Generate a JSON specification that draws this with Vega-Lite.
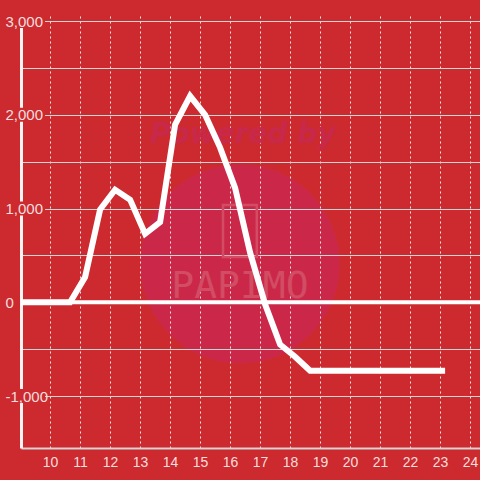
{
  "$schema": "https://vega.github.io/schema/vega-lite/v6.json",
  "width": 459,
  "height": 432,
  "autosize": "none",
  "padding": {"left": 21, "top": 16, "right": 0, "bottom": 32},
  "background": "#cd2a2f",
  "config": {"font": "Liberation Sans", "axis": {"labelOverlap": false, "labelFlush": false}},
  "view": {
    "stroke": null,
    "fill": {"expr": "{gradient: 'radial', x1: 0.4771, y1: 0.5694, r1: 0, x2: 0.4771, y2: 0.5694, r2: 0.2179, stops: [{offset: 0, color: '#cb2849'}, {offset: 0.99, color: '#cb2849'}, {offset: 1, color: '#cd2a2f'}]}"}
  },
  "resolve": {"axis": {"y": "independent"}},
  "layer": [
    {
      "data": {"values": [{"z": 0}]},
      "mark": {"type": "rule", "color": "#ffffff", "strokeWidth": 4},
      "encoding": {
        "y": {
          "field": "z",
          "type": "quantitative",
          "scale": {"domain": [-1500, 3000], "nice": false, "zero": false},
          "axis": {
            "orient": "left",
            "values": [-1000, -500, 0, 500, 1000, 1500, 2000, 2500, 3000],
            "grid": true,
            "gridColor": "#d6d6d6",
            "gridWidth": 1,
            "labels": false,
            "ticks": false,
            "tickSize": 0,
            "domain": true,
            "domainColor": "#f4f4f4",
            "domainWidth": 3,
            "title": null,
            "zindex": 0
          }
        }
      }
    },
    {
      "data": {"values": [{"v": 3000}, {"v": 2000}, {"v": 1000}, {"v": -1000}]},
      "mark": {"type": "bar", "color": "#cd2a2f", "height": 14, "clip": false},
      "encoding": {
        "x": {"datum": 8.4, "type": "quantitative",
          "scale": {"domain": [9.0333, 24.3333], "nice": false, "zero": false},
          "axis": {"values": [10, 11, 12, 13, 14, 15, 16, 17, 18, 19, 20, 21, 22, 23, 24], "format": "d", "grid": true, "gridColor": "#e4eaea", "gridDash": [2, 3], "gridWidth": 1, "domainColor": "#d4d4d4", "domainWidth": 2, "ticks": false, "tickSize": 0, "labelPadding": 7, "labelColor": "#f4dede", "labelFontSize": 14, "labelFont": "Liberation Sans", "labelFlush": false, "labelOverlap": false, "title": null}},
        "x2": {"datum": 9.833},
        "y": {"field": "v", "type": "quantitative", "axis": null}
      }
    },
    {
      "data": {"values": [{"t": "Powered by"}]},
      "mark": {"type": "text", "font": "DejaVu Sans", "fontSize": 28, "fontWeight": "bold", "fontStyle": "italic", "color": "#c8284a", "align": "center", "baseline": "middle"},
      "encoding": {
        "x": {"datum": 16.43, "type": "quantitative",
          "axis": {"values": [10, 11, 12, 13, 14, 15, 16, 17, 18, 19, 20, 21, 22, 23, 24], "format": "d", "grid": true, "gridColor": "#e4eaea", "gridDash": [2, 3], "gridWidth": 1, "domainColor": "#d4d4d4", "domainWidth": 2, "ticks": false, "tickSize": 0, "labelPadding": 7, "labelColor": "#f4dede", "labelFontSize": 14, "labelFont": "Liberation Sans", "labelFlush": false, "labelOverlap": false, "title": null}},
        "y": {"datum": 1781, "type": "quantitative", "axis": null},
        "text": {"field": "t"}
      }
    },
    {
      "data": {"values": [{"t": "icon"}]},
      "mark": {"type": "point", "shape": "M-0.65,-1H0.65V1H-0.65Z", "size": 2704, "filled": false, "stroke": "#d24c63", "strokeWidth": 2.5, "opacity": 1},
      "encoding": {
        "x": {"datum": 16.33, "type": "quantitative",
          "axis": {"values": [10, 11, 12, 13, 14, 15, 16, 17, 18, 19, 20, 21, 22, 23, 24], "format": "d", "grid": true, "gridColor": "#e4eaea", "gridDash": [2, 3], "gridWidth": 1, "domainColor": "#d4d4d4", "domainWidth": 2, "ticks": false, "tickSize": 0, "labelPadding": 7, "labelColor": "#f4dede", "labelFontSize": 14, "labelFont": "Liberation Sans", "labelFlush": false, "labelOverlap": false, "title": null}},
        "y": {"datum": 760, "type": "quantitative", "axis": null}
      }
    },
    {
      "data": {"values": [{"t": "PAPIMO"}]},
      "mark": {"type": "text", "font": "DejaVu Sans Mono", "fontSize": 38, "color": "#d24c63", "align": "center", "baseline": "middle"},
      "encoding": {
        "x": {"datum": 16.33, "type": "quantitative",
          "axis": {"values": [10, 11, 12, 13, 14, 15, 16, 17, 18, 19, 20, 21, 22, 23, 24], "format": "d", "grid": true, "gridColor": "#e4eaea", "gridDash": [2, 3], "gridWidth": 1, "domainColor": "#d4d4d4", "domainWidth": 2, "ticks": false, "tickSize": 0, "labelPadding": 7, "labelColor": "#f4dede", "labelFontSize": 14, "labelFont": "Liberation Sans", "labelFlush": false, "labelOverlap": false, "title": null}},
        "y": {"datum": 167, "type": "quantitative", "axis": null},
        "text": {"field": "t"}
      }
    },
    {
      "data": {
        "values": [
          {"h": 8.67, "v": 0},
          {"h": 9.17, "v": 0},
          {"h": 9.67, "v": 0},
          {"h": 10.17, "v": 0},
          {"h": 10.67, "v": 0},
          {"h": 11.17, "v": 270},
          {"h": 11.67, "v": 990},
          {"h": 12.17, "v": 1200},
          {"h": 12.67, "v": 1095},
          {"h": 13.17, "v": 730},
          {"h": 13.67, "v": 855},
          {"h": 14.17, "v": 1895},
          {"h": 14.67, "v": 2200},
          {"h": 15.17, "v": 2000},
          {"h": 15.67, "v": 1650},
          {"h": 16.17, "v": 1220},
          {"h": 16.67, "v": 530},
          {"h": 17.17, "v": -20},
          {"h": 17.67, "v": -450},
          {"h": 18.17, "v": -580},
          {"h": 18.67, "v": -730},
          {"h": 19.17, "v": -730},
          {"h": 19.67, "v": -730},
          {"h": 20.17, "v": -730},
          {"h": 20.67, "v": -730},
          {"h": 21.17, "v": -730},
          {"h": 21.67, "v": -730},
          {"h": 22.17, "v": -730},
          {"h": 22.67, "v": -730},
          {"h": 23.17, "v": -730}
        ]
      },
      "mark": {"type": "line", "color": "#ffffff", "strokeWidth": 6, "clip": true, "strokeJoin": "miter"},
      "encoding": {
        "x": {
          "field": "h",
          "type": "quantitative",
          "axis": {"values": [10, 11, 12, 13, 14, 15, 16, 17, 18, 19, 20, 21, 22, 23, 24], "format": "d", "grid": true, "gridColor": "#e4eaea", "gridDash": [2, 3], "gridWidth": 1, "domainColor": "#d4d4d4", "domainWidth": 2, "ticks": false, "tickSize": 0, "labelPadding": 7, "labelColor": "#f4dede", "labelFontSize": 14, "labelFont": "Liberation Sans", "labelFlush": false, "labelOverlap": false, "title": null}
        },
        "y": {
          "field": "v",
          "type": "quantitative",
          "axis": {
            "orient": "left",
            "values": [-1000, 0, 1000, 2000, 3000],
            "labelExpr": "replace(format(datum.value, ',d'), '\u2212', '-')",
            "grid": false,
            "domain": false,
            "ticks": false,
            "tickSize": 0,
            "labelAlign": "left",
            "labelBaseline": "middle",
            "labelPadding": 16,
            "labelColor": "#f4dede",
            "labelFontSize": 15,
            "labelFont": "Liberation Sans",
            "labelFlush": false,
            "labelOverlap": false,
            "title": null,
            "zindex": 1
          }
        }
      }
    }
  ]
}
